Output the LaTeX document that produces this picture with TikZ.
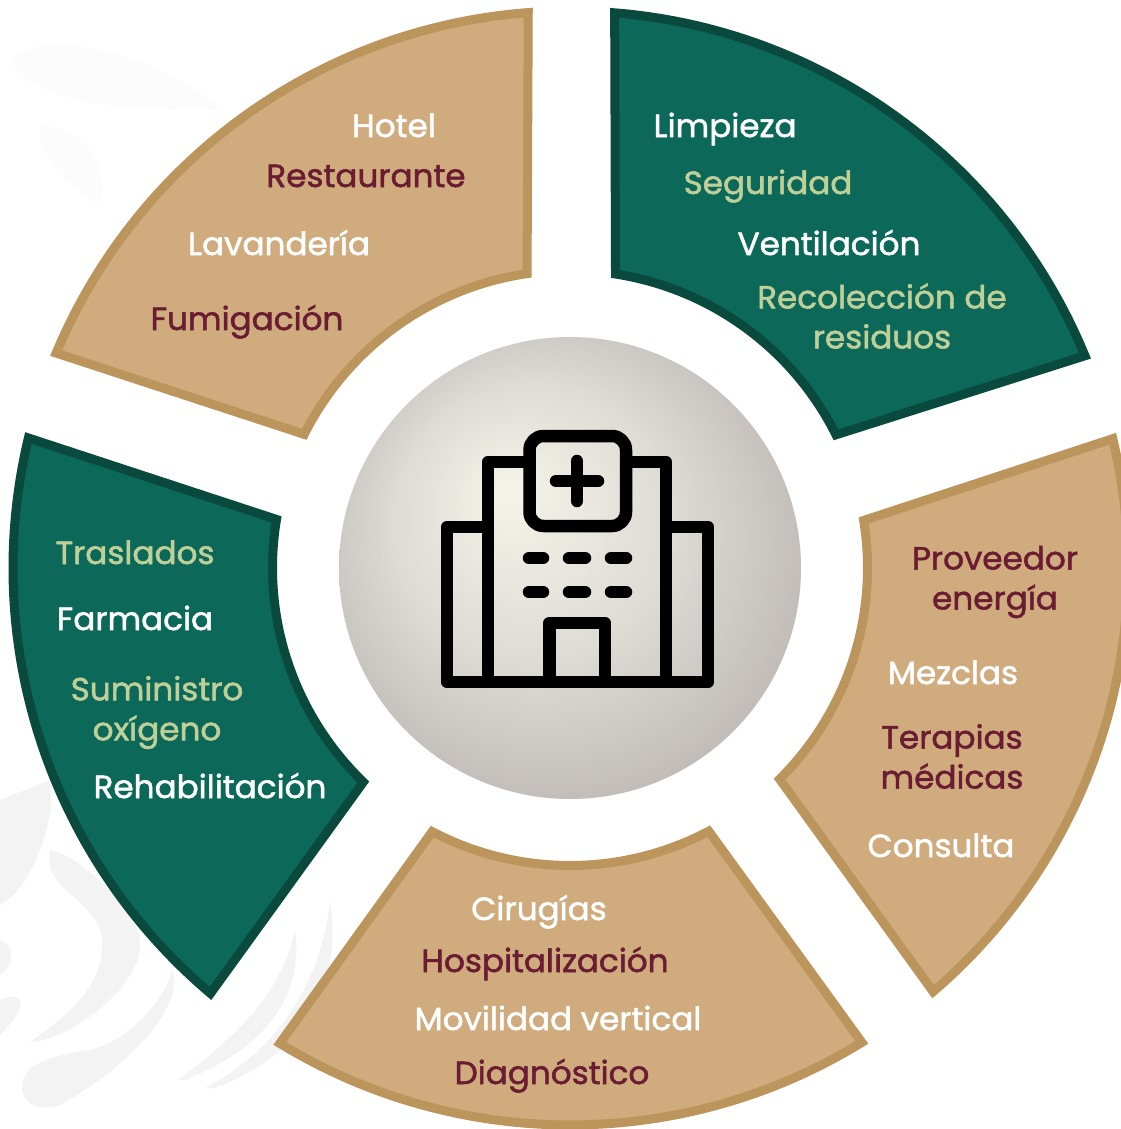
\documentclass[tikz,border=0pt]{standalone}
\usepackage{fontspec}
\setmainfont{Poppins}[FakeBold=1.6,FakeStretch=1.02]
\definecolor{tan}{HTML}{CFAB7D}
\definecolor{tanline}{HTML}{BC955C}
\definecolor{grn}{HTML}{0C6858}
\definecolor{grnline}{HTML}{0A4A3E}
\definecolor{maroon}{HTML}{691C32}
\definecolor{pale}{HTML}{BFCF98}
\definecolor{wm}{HTML}{F3F3F4}
\definecolor{wmb}{HTML}{FCFCFC}
\pgfdeclareradialshading{ballshade}{\pgfpoint{-7bp}{8.5bp}}{%
  rgb(0bp)=(0.965,0.957,0.918);
  rgb(5bp)=(0.933,0.922,0.89);
  rgb(15bp)=(0.87,0.86,0.835);
  rgb(25bp)=(0.78,0.763,0.747);
  rgb(31.5bp)=(0.72,0.7,0.685);
  rgb(33bp)=(0.64,0.62,0.605);
  rgb(35bp)=(0.52,0.5,0.485);
  rgb(36bp)=(0.42,0.4,0.385)}
\tikzset{
  seg/.style={line width=9pt,miter limit=10,line join=miter},
  tanseg/.style={seg,fill=tan,draw=tanline},
  grnseg/.style={seg,fill=grn,draw=grnline},
  lab/.style={inner sep=0pt,outer sep=0pt,font=\fontsize{32}{40}\selectfont,align=center},
  w/.style={lab,text=white},
  m/.style={lab,text=maroon},
  p/.style={lab,text=pale},
  icon/.style={draw=black,line width=12.5pt,line join=round},
  iconr/.style={draw=black,line width=12.5pt,line cap=round}
}
\begin{document}
\begin{tikzpicture}[x=1pt,y=-1pt]
\useasboundingbox (0,0) rectangle (1120,1129);
\fill[white] (0,0) rectangle (1120,1129);
% watermark
\fill[wm] (50,850) .. controls (70,850) and (145,910) .. (140,950) .. controls (135,990) and (70,1040) .. (30,1042) .. controls (60,1020) and (105,990) .. (102,940) .. controls (100,900) and (40,890) .. (50,850) -- cycle;
\fill[wm] (22,1085) .. controls (25,1060) and (60,1055) .. (90,1050) .. controls (130,1040) and (165,1000) .. (172,970) .. controls (185,1000) and (140,1060) .. (60,1105) .. controls (40,1112) and (22,1105) .. (22,1085) -- cycle;
\fill[wm] (178,1080) .. controls (230,1040) and (280,1000) .. (295,930) .. controls (305,1000) and (260,1050) .. (185,1080) -- cycle;
\fill[wm] (205,1088) .. controls (260,1060) and (320,1000) .. (330,900) .. controls (345,1000) and (290,1060) .. (215,1088) -- cycle;
\fill[wm] (0,800) -- (50,780) .. controls (58,820) and (30,890) .. (0,905) -- cycle;
\fill[wm] (0,940) .. controls (15,945) and (15,965) .. (0,975) -- cycle;
\fill[wm] (0,1000) .. controls (25,990) and (30,1005) .. (0,1035) -- cycle;
\fill[wmb] (10,60) .. controls (60,20) and (180,70) .. (220,110) .. controls (150,110) and (40,110) .. (10,60) -- cycle;
\fill[wmb] (40,125) .. controls (90,130) and (110,170) .. (100,205) .. controls (60,180) and (40,160) .. (40,125) -- cycle;
% segments
\begin{scope}[shift={(570,568)},y=1pt]
\draw[tanseg] (94.3:557pt) arc[start angle=94.3,end angle=157.3,radius=557pt] -- (153.3:297.5pt) arc[start angle=153.3,end angle=98.3,radius=297.5pt] -- cycle;
\draw[grnseg] (85.4:557pt) arc[start angle=85.4,end angle=22.4,radius=557pt] -- (26.6:297.5pt) arc[start angle=26.6,end angle=81.2,radius=297.5pt] -- cycle;
\draw[tanseg] (13.4:558pt) arc[start angle=13.4,end angle=-49.4,radius=558pt] -- (-45.2:297.5pt) arc[start angle=-45.2,end angle=9.2,radius=297.5pt] -- cycle;
\draw[tanseg] (-58.4:557pt) arc[start angle=-58.4,end angle=-121.4,radius=557pt] -- (-117.6:297.5pt) arc[start angle=-117.6,end angle=-62.2,radius=297.5pt] -- cycle;
\draw[grnseg] (166.5:557pt) arc[start angle=166.5,end angle=229.8,radius=557pt] -- (226:297.5pt) arc[start angle=226,end angle=170.6,radius=297.5pt] -- cycle;
\end{scope}
% ball
\node[circle,minimum size=462pt,inner sep=0pt,shading=ballshade] (ball) at (570,568) {};
% icon
\draw[icon] (488,682) -- (447,682) -- (447,527) -- (488,527);
\draw[icon] (666,527) -- (708,527) -- (708,682) -- (666,682);
\draw[icon] (488,682) -- (488,462) -- (529.5,462);
\draw[icon] (626,462) -- (666,462) -- (666,682);
\draw[icon] (488,682) -- (666,682);
\draw[icon,rounded corners=14pt] (529.5,436) rectangle (626,526);
\draw[iconr] (556,481) -- (598,481);
\draw[iconr] (577,461) -- (577,501);
\foreach \yy in {558,592}{
  \draw[iconr] (529,\yy) -- (543,\yy);
  \draw[iconr] (569,\yy) -- (585,\yy);
  \draw[iconr] (611,\yy) -- (626,\yy);
}
\draw[icon] (549.5,682) -- (549.5,623) -- (605,623) -- (605,682);
% labels
\node[w,anchor=base] (hotel) at (394,137) {Hotel};
\node[m,anchor=base] (rest) at (366,187) {Restaurante};
\node[w,anchor=base] (lav) at (279,255) {Lavandería};
\node[m,anchor=base] (fum) at (247,330) {Fumigación};
\node[w,anchor=base] (lim) at (725,137) {Limpieza};
\node[p,anchor=base] (segu) at (768,194) {Seguridad};
\node[w,anchor=base] (ven) at (829,255) {Ventilación};
\node[p] (rec) at (882,316) {Recolección de\\residuos};
\node[m] (prov) at (995,582) {Proveedor\\energía};
\node[w,anchor=base] (mez) at (953,684) {Mezclas};
\node[m] (ter) at (952,756.5) {Terapias\\médicas};
\node[w,anchor=base] (con) at (941,857) {Consulta};
\node[w,anchor=base] (cir) at (539,920) {Cirugías};
\node[m,anchor=base] (hos) at (545,972) {Hospitalización};
\node[w,anchor=base] (mov) at (558,1030) {Movilidad vertical};
\node[m,anchor=base] (dia) at (552,1084) {Diagnóstico};
\node[p,anchor=base] (tra) at (135,564) {Traslados};
\node[w,anchor=base] (far) at (135,630) {Farmacia};
\node[p] (sum) at (157,712.5) {Suministro\\oxígeno};
\node[w,anchor=base] (reh) at (210,798) {Rehabilitación};
\end{tikzpicture}
\end{document}
